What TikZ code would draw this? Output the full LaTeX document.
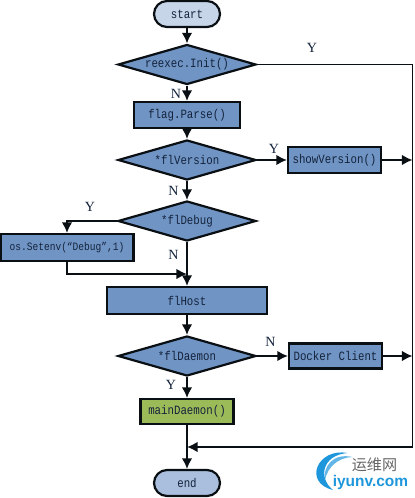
\documentclass[tikz,border=0pt]{standalone}
\usepackage{fontspec}
\setmonofont[FakeStretch=0.85]{Liberation Mono}
\setmainfont{Liberation Serif}
\newfontfamily\cjkfont{Noto Sans CJK SC}
\newfontfamily\logofont{Liberation Sans}
\usetikzlibrary{arrows.meta,positioning,shapes.geometric}
\definecolor{fcblue}{HTML}{7094C4}
\definecolor{fcline}{HTML}{0A0F14}
\definecolor{fcstart}{HTML}{C6D5E8}
\definecolor{fcend}{HTML}{A9BFDD}
\definecolor{fcgreen}{HTML}{9BBB59}
\definecolor{fctext}{HTML}{14233C}
\definecolor{fclogo}{HTML}{1E96DC}
\tikzset{
  flowbox/.style={draw=fcline, line width=1.25pt, fill=fcblue, rectangle, inner sep=0pt, text=fctext, font=\ttfamily\fontsize{7.2}{9}\selectfont},
  flowdec/.style={flowbox, diamond, aspect=3.5, minimum width=2.76cm, minimum height=0.8cm},
  flowlabel/.style={font=\fontsize{8}{9}\selectfont, text=fctext, inner sep=0pt},
  flowline/.style={-{Latex[length=6pt,width=6pt]}, line width=1pt, draw=fcline},
  flowplain/.style={line width=1pt, draw=fcline}
}
\begin{document}
\begin{tikzpicture}
  \useasboundingbox (0,0) rectangle (8.28,-9.96);

  % Main column
  \node[flowbox, rounded corners=0.26cm, fill=fcstart, minimum width=1.32cm, minimum height=0.52cm] (start) at (3.74,-0.28) {start};
  \node[flowdec] (reexec) at (3.74,-1.29) {reexec.Init()};
  \node[flowbox, minimum width=2.12cm, minimum height=0.52cm] (parse) at (3.74,-2.30) {flag.Parse()};
  \node[flowdec] (version) at (3.74,-3.20) {*flVersion};
  \node[flowdec] (debug) at (3.74,-4.42) {*flDebug};
  \node[flowbox, minimum width=3.2cm, minimum height=0.54cm] (host) at (3.74,-6.01) {flHost};
  \node[flowdec] (daemon) at (3.74,-7.12) {*flDaemon};
  \node[flowbox, fill=fcgreen, minimum width=1.86cm, minimum height=0.5cm] (main) at (3.74,-8.23) {mainDaemon()};
  \node[flowbox, rounded corners=0.26cm, fill=fcend, minimum width=1.32cm, minimum height=0.52cm] (end) at (3.74,-9.66) {end};

  % Side boxes
  \node[flowbox, minimum width=1.86cm, minimum height=0.52cm] (show) at (6.69,-3.20) {showVersion()};
  \node[flowbox, minimum width=1.86cm, minimum height=0.5cm] (client) at (6.71,-7.12) {Docker Client};
  \node[flowbox, minimum width=2.66cm, minimum height=0.54cm, font=\ttfamily\fontsize{6.4}{8}\selectfont] (setenv) at (1.34,-4.95) {os.Setenv(“Debug”,1)};

  % Junctions
  \coordinate (railtop) at (8.25,-1.29);
  \coordinate (railshow) at (8.25,-3.20);
  \coordinate (railclient) at (8.25,-7.12);
  \coordinate (railend) at (8.25,-8.94);
  \coordinate (mergeend) at (3.74,-8.94);
  \coordinate (mergehost) at (3.74,-5.48);

  % Arrows
  \draw[flowline] (start) -- (reexec);
  \draw[flowline] (reexec) -- (parse);
  \draw[flowline] (parse) -- (version);
  \draw[flowline] (version) -- (debug);
  \draw[flowline] (debug) -- (host);
  \draw[flowline] (host) -- (daemon);
  \draw[flowline] (daemon) -- (main);
  \draw[flowline] (main) -- (end);
  \draw[flowline] (version) -- (show);
  \draw[flowline] (show) -- (railshow);
  \draw[flowline] (daemon) -- (client);
  \draw[flowline] (client) -- (railclient);
  \draw[flowline] (debug.west) -| (setenv.north);
  \draw[flowline] (setenv.south) |- (mergehost);
  \draw[flowplain] (reexec.east) -- (railtop) -- (railend);
  \draw[flowline] (railend) -- (mergeend);

  % Labels
  \node[flowlabel] (ya) at (6.24,-0.96) {Y};
  \node[flowlabel] (na) at (3.52,-1.87) {N};
  \node[flowlabel] (yb) at (5.48,-2.97) {Y};
  \node[flowlabel] (nb) at (3.47,-3.82) {N};
  \node[flowlabel] (yc) at (1.80,-4.14) {Y};
  \node[flowlabel] (nc) at (3.47,-5.10) {N};
  \node[flowlabel] (nd) at (5.41,-6.84) {N};
  \node[flowlabel] (yd) at (3.42,-7.70) {Y};

  % Watermark
  \fill[fclogo] (6.95,-9.06) .. controls (6.35,-8.95) and (6.05,-9.65) .. (6.66,-9.80)
    .. controls (6.35,-9.55) and (6.45,-9.10) .. (6.95,-9.06) -- cycle;
  \fill[fclogo!70] (7.05,-9.14) .. controls (6.65,-9.05) and (6.45,-9.35) .. (6.50,-9.60)
    .. controls (6.55,-9.35) and (6.75,-9.15) .. (7.05,-9.14) -- cycle;
  \node[font=\cjkfont\fontsize{8.6}{10}\selectfont, text=black!60, inner sep=0pt] (logocn) at (7.49,-9.30) {运维网};
  \node[font=\logofont\bfseries\fontsize{8.8}{11}\selectfont, text=fclogo, inner sep=0pt] (logoen) at (7.41,-9.64) {iyunv.com};
\end{tikzpicture}
\end{document}
